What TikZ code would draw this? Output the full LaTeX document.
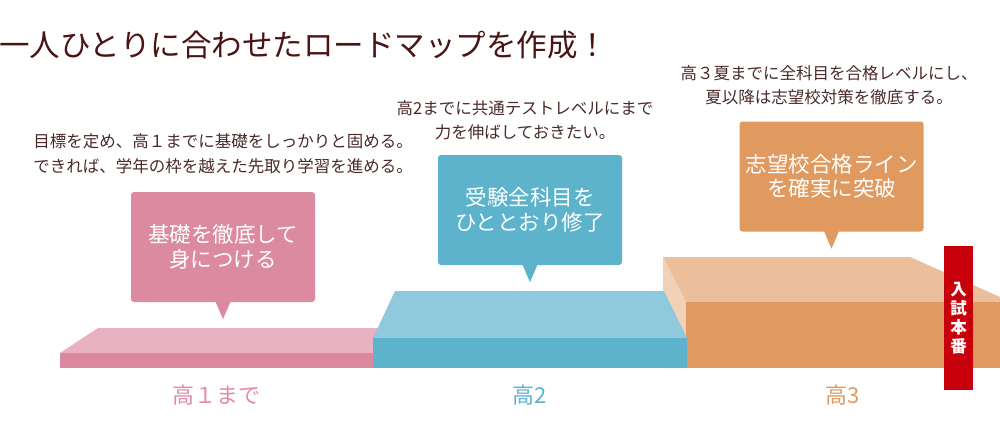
\documentclass[tikz,border=0pt]{standalone}
\usepackage{fontspec}
\setmainfont{Noto Sans CJK JP}
\usepackage{tikz}
\usetikzlibrary{positioning}
\definecolor{titlebrown}{HTML}{4A1414}
\definecolor{descbrown}{HTML}{4A2A2A}
\definecolor{pinkbox}{HTML}{DC8AA0}
\definecolor{pinktop}{HTML}{E8B2C2}
\definecolor{pinkfront}{HTML}{DB889F}
\definecolor{pinklabel}{HTML}{E08CA5}
\definecolor{bluebox}{HTML}{5DB3CC}
\definecolor{bluetop}{HTML}{8EC9DD}
\definecolor{bluefront}{HTML}{5DB3CC}
\definecolor{orangebox}{HTML}{E09A60}
\definecolor{orangetop}{HTML}{EBBF9B}
\definecolor{orangeside}{HTML}{F1D1B7}
\definecolor{orangefront}{HTML}{E09A60}
\definecolor{examred}{HTML}{C8000B}

\begin{document}
\begin{tikzpicture}[x=1pt,y=-1pt,
    every node/.style={inner sep=0pt},
    desc/.style={text=descbrown, align=center, font=\fontsize{16.5}{24.5}\selectfont},
    bubble/.style={rounded corners=3pt, minimum width=184pt, minimum height=110pt,
        align=center, text=white, font=\fontsize{21.5}{24.5}\selectfont},
    yearlabel/.style={font=\fontsize{22}{24}\selectfont}]
                \useasboundingbox (0,0) rectangle (1000,432);
                % title
                \node[anchor=west, text=titlebrown, font=\fontsize{30.5}{32}\selectfont] (title) at (-1,45) {一人ひとりに合わせたロードマップを作成！};
                % steps
                \fill[pinktop] (60,353) -- (98,328) -- (378,328) -- (378,353) -- cycle;
                \fill[pinkfront] (60,353) rectangle (373,368);
                \fill[orangeside] (663,257) -- (686,302) -- (686,368) -- (663,368) -- cycle;
                \fill[orangetop] (663,257) -- (910,257) -- (1000,297) -- (1000,302) -- (686,302) -- cycle;
                \fill[orangefront] (686,302) rectangle (1000,368);
                \fill[bluetop] (373,338) -- (395,291) -- (664,291) -- (687,338) -- cycle;
                \fill[bluefront] (373,338) rectangle (687,368);
                % bubbles
                \node[bubble, fill=pinkbox] (pk) at (223,247) {基礎を徹底して\\身につける};
                \fill[pinkbox] ([xshift=-7.5pt,yshift=0.5pt]pk.south) -- ++(7.5,17.5) -- ++(7.5,-17.5) -- cycle;
                \node[bubble, fill=bluebox] (bl) at (530,210) {受験全科目を\\ひととおり修了};
                \fill[bluebox] ([xshift=-7.5pt,yshift=0.5pt]bl.south) -- ++(7.5,17.5) -- ++(7.5,-17.5) -- cycle;
                \node[bubble, fill=orangebox] (or) at (831.5,176.5) {志望校合格ライン\\を確実に突破};
                \fill[orangebox] ([xshift=-7.5pt,yshift=0.5pt]or.south) -- ++(7.5,17.5) -- ++(7.5,-17.5) -- cycle;
                % comments above
                \node[desc] (pkdesc) at (223,154) {目標を定め、高１までに基礎をしっかりと固める。\\できれば、学年の枠を越えた先取り学習を進める。};
                \node[desc] (bldesc) at (525,120) {高2までに共通テストレベルにまで\\力を伸ばしておきたい。};
                \node[desc] (ordesc) at (829,85.5) {高３夏までに全科目を合格レベルにし、\\夏以降は志望校対策を徹底する。};
                % exam bar
                \node[fill=examred, minimum width=29pt, minimum height=144pt, align=center, text=white,
                    font=\bfseries\fontsize{16.5}{19}\selectfont] (exam) at (958.5,318) {入\\試\\本\\番};
                % years
                \node[yearlabel, text=pinklabel] (y1) at (216,395) {高１まで};
                \node[yearlabel, text=bluebox] (y2) at (530,395) {高2};
                \node[yearlabel, text=orangebox] (y3) at (843,395) {高3};
            \end{tikzpicture}
\end{document}
